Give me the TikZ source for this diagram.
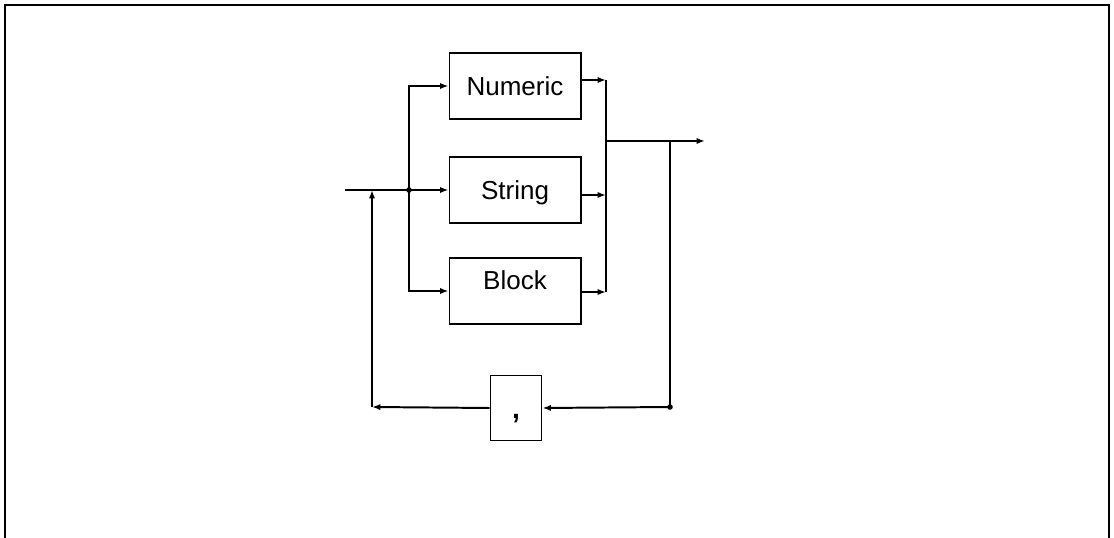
\documentclass[tikz,border=0pt]{standalone}
\usepackage{fontspec}
\setmainfont{Liberation Sans}
\usepackage{tikz}
\usetikzlibrary{positioning,arrows.meta,calc}

\begin{document}
\begin{tikzpicture}[
  x=0.025cm, y=-0.025cm,
  font=\fontsize{18.5}{20}\selectfont,
  line/.style={line width=1.4pt},
  flow/.style={line width=1.4pt, -{Latex[length=6pt,width=4.5pt]}},
  kbox/.style={draw, line width=1.4pt, minimum width=3.275cm, minimum height=1.65cm, inner sep=2pt, text depth=0pt},
  cbox/.style={draw, line width=1.4pt, minimum width=1.275cm, minimum height=1.625cm, inner sep=2pt, text height=0.5cm, text depth=0pt, font=\fontsize{20}{22}\selectfont\bfseries},
  dot/.style={fill=black},
]
  \useasboundingbox (0,0) rectangle (1114,538);
  % --- frame (open at the bottom) ---
  \draw[line width=1.2pt] (5,538) -- (5,5) -- (1109,5) -- (1109,538);
  % --- the three choices ---
  \node[kbox] (num) at (515,86) {Numeric};
  \node[kbox] (str) at (515,190) {String};
  \node[kbox, text depth=0.55cm] (blk) at (515,291) {Block};
  \node[cbox] (comma) at (516,408) {,};
  % --- junction points ---
  \coordinate (in) at (345,190);
  \coordinate (split) at (409,190);
  \coordinate (join) at (606,141);
  \coordinate (tap) at (670,141);
  \coordinate (out) at (705,141);
  \coordinate (back) at (670,407);
  \coordinate (loop) at (372,407);
  \coordinate (merge) at (372,190);
  % --- entry and split ---
  \draw[line] (in) -- (split);
  \draw[flow] (split) -- (str.west);
  \draw[flow] (split) |- (num.west);
  \draw[flow] (split) |- (blk.west);
  \fill[dot] (split) circle[radius=0.07cm];
  % --- outputs into the collector ---
  \draw[flow] ([yshift=0.15cm]num.east) -- ([yshift=0.15cm]num.east -| join);
  \draw[flow] ([yshift=-0.125cm]str.east) -- ([yshift=-0.125cm]str.east -| join);
  \draw[flow] ([yshift=-0.025cm]blk.east) -- ([yshift=-0.025cm]blk.east -| join);
  \draw[line] ([yshift=0.15cm]num.east -| join) -- ([yshift=-0.025cm]blk.east -| join);
  \draw[flow] (join) -- (out);
  % --- repeat loop through the comma ---
  \draw[line] (tap) -- (back);
  \fill[dot] (back) circle[radius=0.07cm];
  \draw[flow] (back) -- (comma.east);
  \draw[flow] (comma.west) -- (loop);
  \draw[flow] (loop) -- (merge);
\end{tikzpicture}
\end{document}
